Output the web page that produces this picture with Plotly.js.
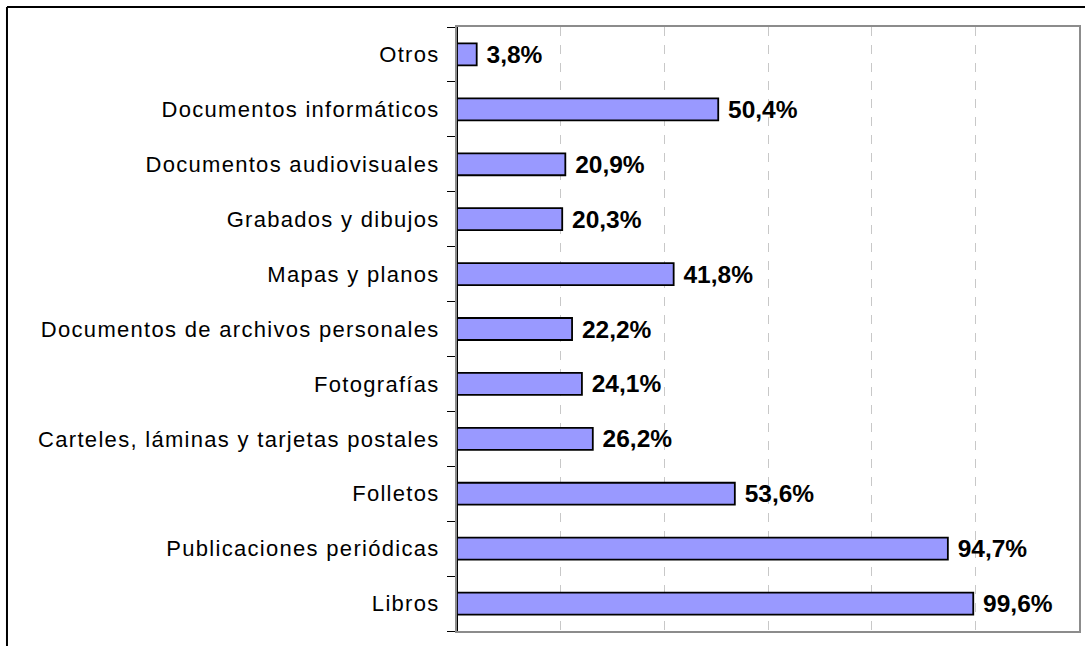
<!DOCTYPE html>
<html>
<head>
<meta charset="utf-8">
<script src="https://cdn.plot.ly/plotly-3.0.1.min.js"></script>
<style>
html,body{margin:0;padding:0;background:#fff;}
#chart{width:1085px;height:646px;}
#chart .ytick text{letter-spacing:1.3px;}
</style>
</head>
<body>
<div id="chart"></div>
<script>
const categories = [
  "Libros",
  "Publicaciones periódicas",
  "Folletos",
  "Carteles, láminas y tarjetas postales",
  "Fotografías",
  "Documentos de archivos personales",
  "Mapas y planos",
  "Grabados y dibujos",
  "Documentos audiovisuales",
  "Documentos informáticos",
  "Otros"
];
const values = [99.6, 94.7, 53.6, 26.2, 24.1, 22.2, 41.8, 20.3, 20.9, 50.4, 3.8];
const xTicks = [0, 20, 40, 60, 80, 100, 120];

const trace = {
  type: "bar",
  orientation: "h",
  y: categories,
  x: values,
  marker: {color: "#9999FF", line: {color: "#000000", width: 1.8}},
  texttemplate: "\u00a0%{x:.1f}%",
  textposition: "outside",
  constraintext: "none",
  cliponaxis: false,
  textfont: {family: "Liberation Sans, Arial, sans-serif", size: 24.5, color: "#000000", weight: "bold"},
  hoverinfo: "none"
};

const layout = {
  width: 1085,
  height: 646,
  separators: ",.",
  paper_bgcolor: "#ffffff",
  plot_bgcolor: "#ffffff",
  margin: {l: 457, r: 6, t: 27, b: 15, pad: 0},
  showlegend: false,
  bargap: 0.6,
  font: {family: "Liberation Sans, Arial, sans-serif", size: 22, color: "#000000"},
  xaxis: {
    range: [0, 120],
    tickvals: xTicks,
    showticklabels: false,
    ticks: "",
    showgrid: true,
    gridcolor: "#c8c8c8",
    griddash: "dash",
    gridwidth: 1,
    zeroline: true,
    zerolinecolor: "#000000",
    zerolinewidth: 1.5,
    showline: true,
    linecolor: "#8c8c8c",
    linewidth: 2,
    mirror: true,
    fixedrange: true
  },
  yaxis: {
    type: "category",
    ticks: "outside",
    tickson: "boundaries",
    ticklen: 8,
    tickcolor: "#000000",
    tickwidth: 1,
    ticklabelstandoff: 11,
    showgrid: false,
    showline: true,
    linecolor: "#8c8c8c",
    linewidth: 2,
    mirror: true,
    tickfont: {family: "Liberation Sans, Arial, sans-serif", size: 22, color: "#000000"},
    fixedrange: true
  },
  shapes: [
    {type: "line", xref: "paper", yref: "paper", x0: -0.7235, x1: 1.02, y0: 1.0331, y1: 1.0331,
     line: {color: "#000000", width: 2}},
    {type: "line", xref: "paper", yref: "paper", x0: -0.7235, x1: -0.7235, y0: 1.0331, y1: -0.05,
     line: {color: "#000000", width: 2}}
  ]
};

Plotly.newPlot("chart", [trace], layout, {displayModeBar: false, staticPlot: true});
</script>
</body>
</html>
